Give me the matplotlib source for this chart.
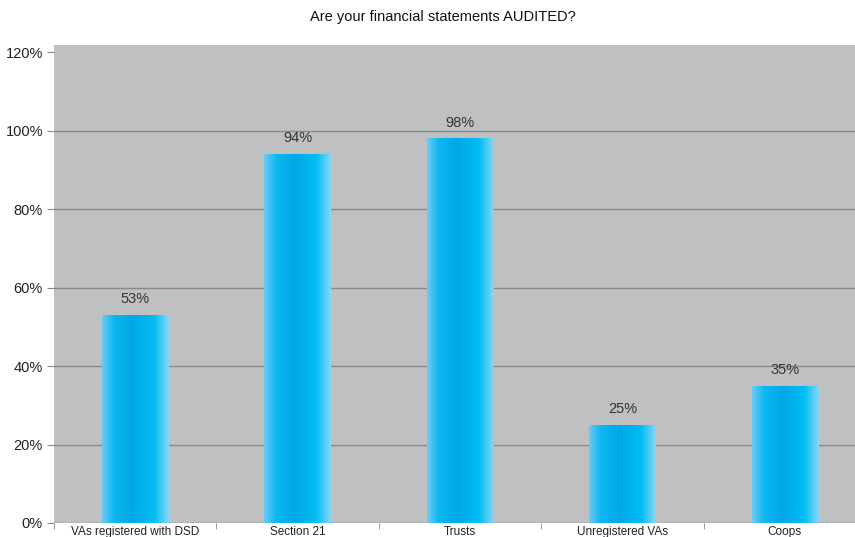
import matplotlib
matplotlib.use("Agg")
import matplotlib.pyplot as plt
import numpy as np
from matplotlib.colors import LinearSegmentedColormap

categories = ["VAs registered with DSD", "Section 21", "Trusts", "Unregistered VAs", "Coops"]
values = [0.53, 0.94, 0.98, 0.25, 0.35]
labels = ["53%", "94%", "98%", "25%", "35%"]
yticks = [0, 0.2, 0.4, 0.6, 0.8, 1.0, 1.2]
ytick_labels = ["0%", "20%", "40%", "60%", "80%", "100%", "120%"]
title = "Are your financial statements AUDITED?"

plt.rcParams['font.family'] = ['Liberation Sans', 'DejaVu Sans']

fig = plt.figure(figsize=(8.55, 5.37), dpi=100)
# axes extends slightly past the right figure edge, as in the reference
ax = fig.add_axes([54 / 855, 14 / 537, 812 / 855, 478 / 537])
ax.set_facecolor("#bfc0c2")
for s in ax.spines.values():
    s.set_visible(False)

ax.set_ylim(0, 1.218)
ax.set_yticks(yticks)
ax.set_yticklabels(ytick_labels, fontsize=10.5, color="#222222")
ax.yaxis.grid(True, color="#8a8a8a", linewidth=1.0)
ax.get_ygridlines()[-1].set_visible(False)
ax.set_axisbelow(True)
ax.tick_params(axis='y', length=5, color="#8a8a8a", pad=3)

x = np.arange(len(categories))
ax.set_xticks(x)
ax.set_xticklabels(categories, fontsize=8.5, color="#222222")
ax.tick_params(axis='x', length=0, pad=2)
ax.set_xticks(np.arange(len(categories) + 1) - 0.5, minor=True)
ax.tick_params(axis='x', which='minor', length=4, color="#8a8a8a")

cmap = LinearSegmentedColormap.from_list("bar", [
    (0.0, "#6ecaf3"), (0.18, "#0cb8f1"), (0.45, "#00a8e8"),
    (0.78, "#00bdf2"), (1.0, "#88d6f6")])
grad = np.linspace(0, 1, 256).reshape(1, -1)
w = 0.41
bars = ax.bar(x, values, width=w, color="none", edgecolor="none")
for b, v, lab in zip(bars, values, labels):
    x0 = b.get_x()
    im = ax.imshow(grad, cmap=cmap, aspect='auto',
                   extent=[x0, x0 + w, 0, v], zorder=2, interpolation='bicubic')
    im.set_clip_path(b)
    ax.text(b.get_x() + w / 2, v + 0.022, lab, ha='center', va='bottom',
            fontsize=10.5, color="#333333")
ax.set_xlim(-0.5, len(categories) - 0.5)
ax.set_ylim(0, 1.218)

fig.text(443 / 855, 1 - 17 / 537, title, ha='center', va='center', fontsize=10.5, color="#111111")

fig.savefig("out.png", dpi=100, facecolor="white")
